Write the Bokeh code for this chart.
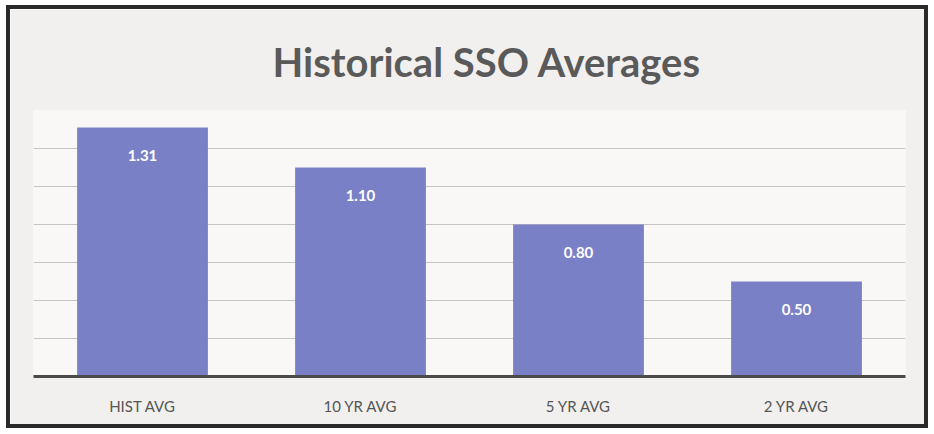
from bokeh.plotting import figure
from bokeh.models import ColumnDataSource, Title, LabelSet, FactorRange
from bokeh.core.properties import value
from bokeh.embed import file_html
from bokeh.resources import INLINE

categories = ["HIST AVG", "10 YR AVG", "5 YR AVG", "2 YR AVG"]
values = [1.31, 1.10, 0.80, 0.50]
value_labels = ["1.31", "1.10", "0.80", "0.50"]

src = ColumnDataSource(dict(cat=categories, val=values, lab=value_labels))

p = figure(width=922, height=423, output_backend="svg", toolbar_location=None,
           x_range=FactorRange(*categories, range_padding=0), y_range=(0, 1.4),
           min_border_left=23, min_border_right=27, min_border_top=101, min_border_bottom=56)
p.styles = {"border": "4px solid #2a2a2a", "margin-left": "6px", "margin-top": "5px"}
p.title = Title(text="Historical SSO Averages", align="left", text_font="Lato",
                text_font_size="40px", text_font_style="bold", text_color="#5a5a5a",
                standoff=50, offset=239)
p.background_fill_color = "#f9f8f7"
p.border_fill_color = "#f1f0ef"
p.outline_line_color = None

p.vbar(x="cat", top="val", width=0.6, source=src, fill_color="#7a80c6", line_color=None)

labels = LabelSet(x="cat", y="val", text="lab", source=src, y_offset=-22,
                  text_align="center", text_baseline="top", text_color="white",
                  text_font=value("Lato"), text_font_size=value("15px"),
                  text_font_style=value("bold"))
p.add_layout(labels)

p.yaxis.visible = False
p.ygrid.ticker = [0.2, 0.4, 0.6, 0.8, 1.0, 1.2]
p.ygrid.grid_line_color = "#c4c4c4"
p.ygrid.grid_line_width = 1
p.xgrid.grid_line_color = None

p.xaxis.axis_line_color = "#4a4a4a"
p.xaxis.axis_line_width = 3
p.xaxis.major_tick_line_color = None
p.xaxis.minor_tick_line_color = None
p.xaxis.major_label_standoff = 14
p.xaxis.major_label_text_font = "Lato"
p.xaxis.major_label_text_font_size = "15px"
p.xaxis.major_label_text_color = "#555555"

open("out.html", "w").write(file_html(p, INLINE))
